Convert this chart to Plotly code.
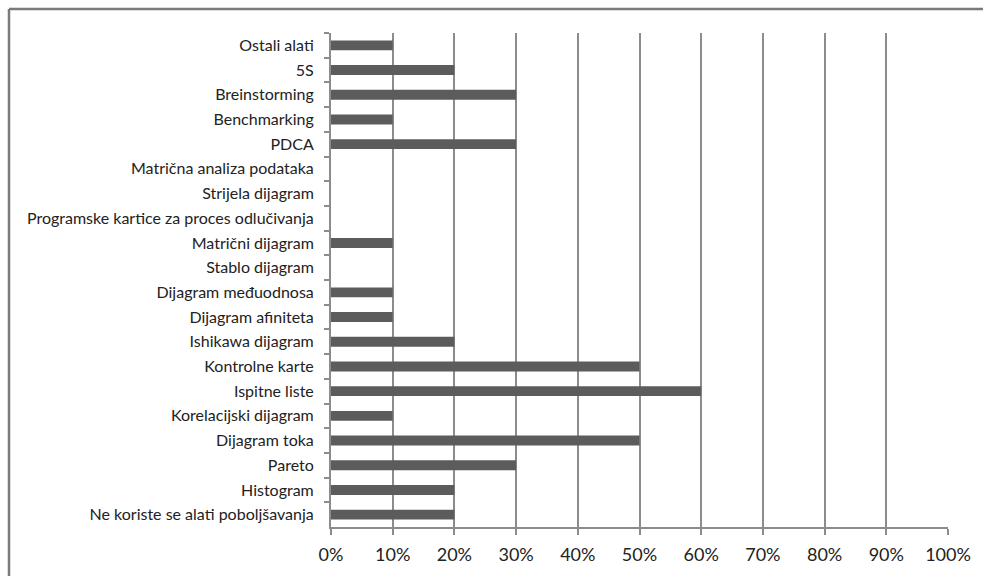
import plotly.graph_objects as go

# Usage of quality improvement tools (share of respondents), listed top to bottom
tools = [
    "Ostali alati",
    "5S",
    "Breinstorming",
    "Benchmarking",
    "PDCA",
    "Matrična analiza podataka",
    "Strijela dijagram",
    "Programske kartice za proces odlučivanja",
    "Matrični dijagram",
    "Stablo dijagram",
    "Dijagram međuodnosa",
    "Dijagram afiniteta",
    "Ishikawa dijagram",
    "Kontrolne karte",
    "Ispitne liste",
    "Korelacijski dijagram",
    "Dijagram toka",
    "Pareto",
    "Histogram",
    "Ne koriste se alati poboljšavanja",
]
shares = [0.10, 0.20, 0.30, 0.10, 0.30, 0.0, 0.0, 0.0, 0.10, 0.0,
          0.10, 0.10, 0.20, 0.50, 0.60, 0.10, 0.50, 0.30, 0.20, 0.20]
x_ticks = [i / 10 for i in range(11)]
x_tick_labels = [f"{i * 10}%" for i in range(11)]

W, H = 983, 576
L, R, T, B = 331, 35, 33, 49

fig = go.Figure(
    go.Bar(
        x=shares,
        y=tools,
        orientation="h",
        marker=dict(color="#5c5c5c", line=dict(width=0)),
        hoverinfo="x+y",
    )
)

grid_col = "#8c8c8c"
font_family = "Lato, 'Open Sans', sans-serif"

fig.update_layout(
    width=W,
    height=H,
    margin=dict(l=L, r=R, t=T, b=B),
    paper_bgcolor="white",
    plot_bgcolor="white",
    bargap=0.6,
    showlegend=False,
    font=dict(family=font_family, color="#222222"),
    xaxis=dict(
        range=[0, 1],
        tickvals=x_ticks,
        ticktext=x_tick_labels,
        showgrid=True,
        gridcolor=grid_col,
        gridwidth=2,
        zeroline=False,
        showline=True,
        linecolor=grid_col,
        linewidth=2,
        ticks="outside",
        ticklen=6,
        tickwidth=2,
        tickcolor=grid_col,
        ticklabelstandoff=4,
        tickfont=dict(size=18, family=font_family, color="#222222"),
        fixedrange=True,
    ),
    yaxis=dict(
        autorange="reversed",
        showgrid=False,
        showline=True,
        linecolor=grid_col,
        linewidth=2,
        ticks="outside",
        tickson="boundaries",
        ticklen=5,
        tickwidth=2,
        tickcolor=grid_col,
        ticklabelstandoff=12,
        tickfont=dict(size=16, family=font_family, color="#222222"),
        fixedrange=True,
    ),
)

# Chart frame: top and left edges of the outer border
pw = W - L - R
ph = H - T - B
fx = (9 - L) / pw
fy = 1 + (T - 9) / ph
fig.add_shape(type="line", xref="paper", yref="paper",
              x0=fx, x1=(W + 10 - L) / pw, y0=fy, y1=fy,
              line=dict(color="#7a7a7a", width=2.5))
fig.add_shape(type="line", xref="paper", yref="paper",
              x0=fx, x1=fx, y0=fy, y1=-(B + 10) / ph,
              line=dict(color="#7a7a7a", width=2.5))

fig.write_html("out.html", config={"displayModeBar": False})
